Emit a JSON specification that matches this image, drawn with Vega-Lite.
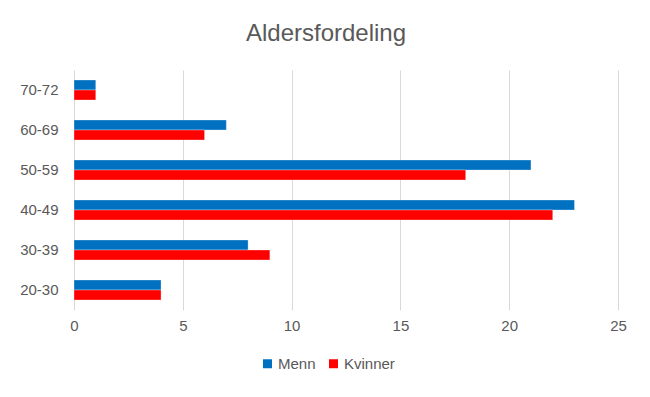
{
  "$schema": "https://vega.github.io/schema/vega-lite/v6.json",
  "width": 544,
  "height": 240,
  "autosize": {"type": "none"},
  "padding": {"left": 74, "top": 70, "right": 32, "bottom": 87},
  "background": "white",
  "title": {
    "text": "Aldersfordeling",
    "font": "Liberation Sans",
    "fontSize": 24,
    "fontWeight": "normal",
    "color": "#595959",
    "anchor": "middle",
    "frame": "group",
    "dx": -20,
    "offset": 24
  },
  "data": {
    "values": [
      {"alder": "70-72", "kjonn": "Menn", "antall": 1},
      {"alder": "70-72", "kjonn": "Kvinner", "antall": 1},
      {"alder": "60-69", "kjonn": "Menn", "antall": 7},
      {"alder": "60-69", "kjonn": "Kvinner", "antall": 6},
      {"alder": "50-59", "kjonn": "Menn", "antall": 21},
      {"alder": "50-59", "kjonn": "Kvinner", "antall": 18},
      {"alder": "40-49", "kjonn": "Menn", "antall": 23},
      {"alder": "40-49", "kjonn": "Kvinner", "antall": 22},
      {"alder": "30-39", "kjonn": "Menn", "antall": 8},
      {"alder": "30-39", "kjonn": "Kvinner", "antall": 9},
      {"alder": "20-30", "kjonn": "Menn", "antall": 4},
      {"alder": "20-30", "kjonn": "Kvinner", "antall": 4}
    ]
  },
  "mark": {"type": "bar", "stroke": "white", "strokeWidth": 0.5, "strokeOpacity": 0.6},
  "encoding": {
    "y": {
      "field": "alder",
      "type": "nominal",
      "sort": ["70-72", "60-69", "50-59", "40-49", "30-39", "20-30"],
      "scale": {"paddingInner": 0.5, "paddingOuter": 0.25},
      "axis": {
        "title": null,
        "domain": false,
        "ticks": false,
        "labelPadding": 16,
        "labelFont": "Liberation Sans",
        "labelFontSize": 15,
        "labelColor": "#595959"
      }
    },
    "yOffset": {
      "field": "kjonn",
      "type": "nominal",
      "sort": ["Menn", "Kvinner"],
      "scale": {"paddingInner": 0, "paddingOuter": 0}
    },
    "x": {
      "field": "antall",
      "type": "quantitative",
      "scale": {"domain": [0, 25], "nice": false},
      "axis": {
        "title": null,
        "values": [0, 5, 10, 15, 20, 25],
        "domain": false,
        "ticks": false,
        "grid": true,
        "gridColor": "#d9d9d9",
        "gridWidth": 1,
        "labelFlush": false,
        "labelPadding": 8,
        "labelFont": "Liberation Sans",
        "labelFontSize": 15,
        "labelColor": "#595959"
      }
    },
    "color": {
      "field": "kjonn",
      "type": "nominal",
      "sort": ["Menn", "Kvinner"],
      "scale": {"domain": ["Menn", "Kvinner"], "range": ["#0070C0", "#FF0000"]},
      "legend": {
        "title": null,
        "orient": "none",
        "direction": "horizontal",
        "legendX": 186,
        "legendY": 286,
        "symbolType": "square",
        "symbolSize": 81,
        "symbolStrokeWidth": 0,
        "labelFont": "Liberation Sans",
        "labelFontSize": 15,
        "labelColor": "#595959",
        "labelOffset": 3,
        "columnPadding": 10
      }
    }
  },
  "config": {"view": {"stroke": null}}
}
